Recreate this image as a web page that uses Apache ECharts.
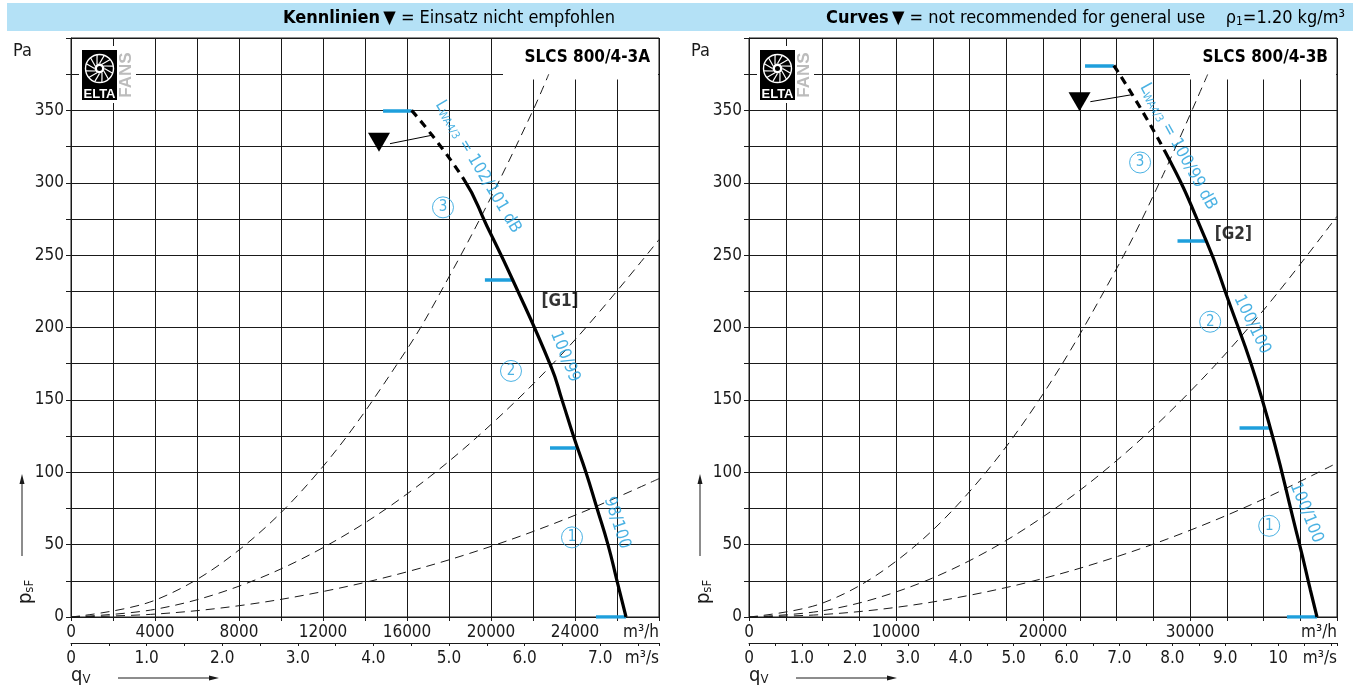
<!DOCTYPE html>
<html><head><meta charset="utf-8">
<script src="https://cdn.jsdelivr.net/npm/echarts@6.0.0/dist/echarts.min.js"></script>
<style>html,body{margin:0;padding:0;background:#fff}#c{width:1353px;height:687px}</style>
</head><body><div id="c"></div>
<script>
const FONT = "'DejaVu Sans Condensed','Liberation Sans',sans-serif";
const FONTW = "'Liberation Sans','DejaVu Sans',sans-serif";

// ---------- shared ----------
const yLabels = [0, 50, 100, 150, 200, 250, 300, 350];
const yMax = 400;

// ---------- chart A : SLCS 800/4-3A ----------
const titleA = 'SLCS 800/4-3A';
const xMaxA = 28000;
const xLabelsA = [0, 4000, 8000, 12000, 16000, 20000, 24000];
const sLabelsA = [0, 1, 2, 3, 4, 5, 6, 7];
// fan curve [m³/h, Pa]; points up to fanOkFromA are "not recommended" (dashed)
const fanA = [[16220, 350], [18680, 303], [19810, 270], [21030, 233], [22860, 173], [23380, 150], [23950, 124], [24520, 100], [25050, 75], [25570, 50], [26000, 25], [26430, 0]];
const fanOkFromA = 18680;
const sys1A = [[0, 0], [4000, 2], [8000, 7.8], [12000, 17.6], [16000, 31.2], [20000, 48.8], [24000, 70.3], [28000, 95.6]];
const sys2A = [[0, 0], [4000, 5.3], [8000, 21.3], [12000, 47.9], [16000, 85], [20000, 133], [24000, 191.5], [28000, 260.7]];
const sys3A = [[0, 0], [4000, 11.6], [8000, 46.3], [12000, 104], [16000, 185], [18000, 235], [20000, 290], [22000, 350], [22750, 375]];
const markA = [[14860, 16220, 350], [19710, 21030, 233], [22810, 24100, 117], [25000, 26430, 0]];
const warnA = [[14667, 328]];
const warnLineA = [[15190, 327], [17250, 333]];
const notesA = [
  [19380, 311, '{l|L}{s|WA4/3}{l| = 102/101 dB}'],
  [23524, 180, '{l|100/99}'],
  [26000, 65, '{l|98/100}'],
  [23286, 218, '{g|[G1]}'],
  [17714, 283, '{c|3}'],
  [20952, 170, '{c|2}'],
  [23857, 55, '{c|1}']
];
const notesRotA = [-59, -68, -72, 0, 0, 0, 0];

// ---------- chart B : SLCS 800/4-3B ----------
const titleB = 'SLCS 800/4-3B';
const xMaxB = 40000;
const xLabelsB = [0, 10000, 20000, 30000];
const sLabelsB = [0, 1, 2, 3, 4, 5, 6, 7, 8, 9, 10];
const fanB = [[24820, 381], [28330, 321], [31100, 260], [32390, 225], [34890, 151], [37430, 51], [38180, 19], [38640, 0]];
const fanOkFromB = 28330;
const sys1B = [[0, 0], [5000, 1.7], [10000, 6.65], [15000, 15], [20000, 26.6], [25000, 41.6], [30000, 59.9], [35000, 81.5], [40000, 106.4]];
const sys2B = [[0, 0], [5000, 4.3], [10000, 17.3], [15000, 38.9], [20000, 69.2], [25000, 108], [30000, 155.7], [35000, 212], [40000, 276.8]];
const sys3B = [[0, 0], [5000, 9.6], [10000, 38.5], [15000, 86.6], [20000, 154], [25000, 240.6], [28000, 301.8], [31200, 374.8]];
const markB = [[22860, 24820, 381], [29150, 31100, 260], [33370, 35390, 131], [36595, 38640, 0]];
const warnB = [[22486, 356]];
const warnLineB = [[23220, 356], [26150, 361]];
const notesB = [
  [29193, 325, '{l|L}{s|WA4/3}{l| = 100/99 dB}'],
  [34219, 202, '{l|100/100}'],
  [37914, 72, '{l|100/100}'],
  [32951, 264, '{g|[G2]}'],
  [26605, 314, '{c|3}'],
  [31372, 204, '{c|2}'],
  [35389, 63, '{c|1}']
];
const notesRotB = [-61, -64, -68, 0, 0, 0, 0];

// ---------- styles / layout ----------
const BLUE = '#1e9fdc';
const INK = '#1a1a1a';
const TICKFS = 17;
const DASH = 8, GAP = 6;
const grids = [
  { left: 71, top: 38, width: 588, height: 579 },
  { left: 749, top: 38, width: 588, height: 579 }
];
const charts = [
  { xMax: xMaxA, xStep: 2000, xLabels: xLabelsA, sLabels: sLabelsA, fan: fanA, okFrom: fanOkFromA, sys: [sys1A, sys2A, sys3A], mark: markA, warn: warnA, warnLine: warnLineA, notes: notesA, rot: notesRotA },
  { xMax: xMaxB, xStep: 2500, xLabels: xLabelsB, sLabels: sLabelsB, fan: fanB, okFrom: fanOkFromB, sys: [sys1B, sys2B, sys3B], mark: markB, warn: warnB, warnLine: warnLineB, notes: notesB, rot: notesRotB }
];

const labelRich = {
  l: { fontSize: 17, color: BLUE, fontFamily: FONT },
  s: { fontSize: 11, color: BLUE, fontFamily: FONT, verticalAlign: 'bottom', padding: [7, 0, 0, 0] },
  g: { fontSize: 17, color: '#000', fontWeight: 'bold', fontFamily: FONT },
  c: { fontSize: 15, color: BLUE, fontFamily: FONT, borderColor: BLUE, borderWidth: 1, borderRadius: 11, width: 21, height: 21, lineHeight: 21, align: 'center' }
};

const xAxes = [], yAxes = [], series = [], fanIdx = [];
charts.forEach((c, g) => {
  const sMax = c.xMax / 3600;
  xAxes.push({
    gridIndex: g, type: 'value', min: 0, max: c.xMax, interval: c.xStep, position: 'bottom',
    axisLine: { show: true, onZero: false, lineStyle: { color: INK, width: 1 } },
    axisTick: { show: true, length: 4, lineStyle: { color: INK } },
    axisLabel: {
      show: true, margin: 7, fontSize: TICKFS, color: INK, fontFamily: FONT,
      showMinLabel: true, showMaxLabel: true, alignMaxLabel: 'right',
      formatter: v => v === c.xMax ? 'm³/h' : (c.xLabels.includes(v) ? String(v) : '')
    },
    splitLine: { show: true, lineStyle: { color: INK, width: 1 } }
  });
  xAxes.push({
    gridIndex: g, type: 'value', min: 0, max: sMax, interval: 0.5, position: 'bottom', offset: 26,
    axisLine: { show: true, onZero: false, lineStyle: { color: INK, width: 1 } },
    axisTick: { show: true, length: 3, lineStyle: { color: INK } },
    axisLabel: {
      show: true, margin: 7, fontSize: TICKFS, color: INK, fontFamily: FONT,
      showMinLabel: true, showMaxLabel: true, alignMaxLabel: 'right',
      formatter: v => Math.abs(v - sMax) < 1e-6 ? 'm³/s' : (c.sLabels.includes(v) ? (v === 0 ? '0' : (v >= 10 ? String(v) : v.toFixed(1))) : '')
    },
    splitLine: { show: false }
  });
  yAxes.push({
    gridIndex: g, type: 'value', min: 0, max: yMax, interval: 25,
    axisLine: { show: true, lineStyle: { color: INK, width: 1 } },
    axisTick: { show: true, length: 5, lineStyle: { color: INK } },
    axisLabel: { show: true, margin: 7, fontSize: TICKFS, color: INK, fontFamily: FONT, formatter: v => yLabels.includes(v) ? String(v) : '' },
    splitLine: { show: true, lineStyle: { color: INK, width: 1 } }
  });
  const ax = { xAxisIndex: g * 2, yAxisIndex: g };
  c.sys.forEach(d => series.push(Object.assign({
    type: 'line', data: d, smooth: 0.35, symbol: 'none', z: 3,
    lineStyle: { color: INK, width: 1, type: [9, 6] }
  }, ax)));
  series.push(Object.assign({
    type: 'lines', coordinateSystem: 'cartesian2d', z: 4, symbol: 'none',
    lineStyle: { color: BLUE, width: 3.5, opacity: 1, curveness: 0 },
    data: c.mark.map(m => ({ coords: [[m[0], m[2]], [m[1], m[2]]] }))
  }, ax));
  fanIdx.push(series.length);
  series.push(Object.assign({
    type: 'line', data: c.fan, smooth: 0.5, symbol: 'none', z: 5,
    lineStyle: { color: '#000', width: 3.2, type: 'solid' }
  }, ax));
  series.push(Object.assign({
    type: 'line', data: c.warnLine, symbol: 'none', z: 5,
    lineStyle: { color: '#000', width: 1 }
  }, ax));
  series.push(Object.assign({
    type: 'scatter', data: c.warn, symbol: 'triangle', symbolRotate: 180, symbolSize: [22, 19], z: 6,
    itemStyle: { color: '#000', opacity: 1 }
  }, ax));
  series.push(Object.assign({
    type: 'scatter', symbolSize: 0, z: 7,
    data: c.notes.map((n, i) => ({ value: [n[0], n[1]], name: n[2], label: { rotate: c.rot[i] } })),
    label: { show: true, position: 'inside', formatter: p => p.name, rich: labelRich }
  }, ax));
});

// ---------- decorations ----------
function logo(x0) {
  const cx = 17.5, cy = 18.5, kids = [
    { type: 'rect', shape: { x: 0, y: 0, width: 35, height: 50 }, style: { fill: '#000' } },
    { type: 'circle', shape: { cx: cx, cy: cy, r: 14 }, style: { fill: 'none', stroke: '#fff', lineWidth: 1.4 } },
    { type: 'circle', shape: { cx: cx, cy: cy, r: 5 }, style: { fill: '#fff' } },
    { type: 'circle', shape: { cx: cx, cy: cy, r: 2.5 }, style: { fill: '#000' } },
    { type: 'text', style: { text: 'ELTA', x: 17.5, y: 44.5, align: 'center', verticalAlign: 'middle', font: 'bold 13px ' + FONTW, fill: '#fff' } },
    { type: 'text', x: 44, y: 25, rotation: Math.PI / 2, style: { text: 'FANS', align: 'center', verticalAlign: 'middle', font: 'bold 17px ' + FONTW, fill: '#bcbcbc' } }
  ];
  for (let i = 0; i < 12; i++) {
    const a = i * Math.PI / 6, b = a + 0.35;
    kids.push({ type: 'line', shape: { x1: cx + 5 * Math.cos(a), y1: cy + 5 * Math.sin(a), x2: cx + 14 * Math.cos(b), y2: cy + 14 * Math.sin(b) }, style: { stroke: '#fff', lineWidth: 1.2 } });
  }
  kids.forEach(k => { k.z = 20; });
  return { type: 'group', x: x0, y: 50, z: 20, children: kids };
}
const dx = 678;
const subRich = { p: { fontSize: 20, fontFamily: FONT, fill: INK }, s: { fontSize: 13, fontFamily: FONT, fill: INK, verticalAlign: 'bottom', padding: [8, 0, 0, 0] } };
function side(o) {
  return [
    { type: 'rect', z: 1, shape: { x: 79 + o, y: 46, width: 57, height: 57 }, style: { fill: '#fff' } },
    logo(82 + o),
    { type: 'text', z: 10, style: { text: 'Pa', x: 13 + o, y: 51, verticalAlign: 'middle', font: '18px ' + FONT, fill: INK } },
    { type: 'text', z: 10, x: 26 + o, y: 592, rotation: Math.PI / 2, style: { text: '{p|p}{s|sF}', align: 'center', verticalAlign: 'middle', rich: subRich } },
    { type: 'line', z: 10, shape: { x1: 22 + o, y1: 556, x2: 22 + o, y2: 482 }, style: { stroke: INK, lineWidth: 1 } },
    { type: 'polygon', z: 10, shape: { points: [[22 + o, 474], [19.5 + o, 484], [24.5 + o, 484]] }, style: { fill: INK } },
    { type: 'text', z: 10, style: { text: '{p|q}{s|V}', x: 71 + o, y: 676, verticalAlign: 'middle', rich: subRich } },
    { type: 'line', z: 10, shape: { x1: 118 + o, y1: 678, x2: 210 + o, y2: 678 }, style: { stroke: INK, lineWidth: 1 } },
    { type: 'polygon', z: 10, shape: { points: [[219 + o, 678], [209 + o, 675.5], [209 + o, 680.5]] }, style: { fill: INK } }
  ];
}
const hdrRich = {
  b: { fontSize: 18, fontWeight: 'bold', fontFamily: FONT, fill: '#000' },
  r: { fontSize: 18, fontFamily: FONT, fill: '#000' },
  s: { fontSize: 12, fontFamily: FONT, fill: '#000', verticalAlign: 'bottom', padding: [7, 0, 0, 0] }
};
const graphics = [
  { type: 'rect', z: 0, shape: { x: 7, y: 3, width: 1346, height: 28 }, style: { fill: '#b4e1f6' } },
  { type: 'text', z: 10, style: { text: '{b|Kennlinien} {r|▼ = Einsatz nicht empfohlen}', x: 283, y: 18, verticalAlign: 'middle', rich: hdrRich } },
  { type: 'text', z: 10, style: { text: '{b|Curves} {r|▼ = not recommended for general use}', x: 826, y: 18, verticalAlign: 'middle', rich: hdrRich } },
  { type: 'text', z: 10, style: { text: '{r|ρ}{s|1}{r|=1.20 kg/m³}', x: 1345, y: 18, align: 'right', verticalAlign: 'middle', rich: hdrRich } },
  // title areas (grid lines stop at 375 Pa there)
  { type: 'rect', z: 1, shape: { x: 503, y: 39, width: 155, height: 40.5 }, style: { fill: '#fff' } },
  { type: 'rect', z: 1, shape: { x: 1190, y: 39, width: 146, height: 40.5 }, style: { fill: '#fff' } },
  { type: 'text', z: 10, style: { text: titleA, x: 650, y: 58, align: 'right', verticalAlign: 'middle', font: 'bold 17px ' + FONT, fill: '#000' } },
  { type: 'text', z: 10, style: { text: titleB, x: 1328, y: 58, align: 'right', verticalAlign: 'middle', font: 'bold 17px ' + FONT, fill: '#000' } }
].concat(side(0), side(dx));

const chart = echarts.init(document.getElementById('c'), null, { renderer: 'canvas' });
chart.setOption({
  animation: false,
  backgroundColor: '#fff',
  grid: grids.map(g => Object.assign({ show: true, borderColor: INK, borderWidth: 1, backgroundColor: 'transparent' }, g)),
  xAxis: xAxes,
  yAxis: yAxes,
  series: series,
  graphic: { elements: graphics }
});

// dashed pattern on the "not recommended" start of each fan curve, solid afterwards
const upd = series.map(() => ({}));
charts.forEach((c, g) => {
  const px = c.fan.filter(p => p[0] <= c.okFrom).map(p => chart.convertToPixel({ xAxisIndex: g * 2, yAxisIndex: g }, p));
  let L = 0;
  for (let i = 1; i < px.length; i++) L += Math.hypot(px[i][0] - px[i - 1][0], px[i][1] - px[i - 1][1]);
  const arr = [];
  let acc = 0;
  while (acc + DASH + GAP <= L + 3) { arr.push(DASH, GAP); acc += DASH + GAP; }
  arr.push(100000, 0);
  upd[fanIdx[g]] = { lineStyle: { type: arr } };
});
chart.setOption({ series: upd });
</script></body></html>
